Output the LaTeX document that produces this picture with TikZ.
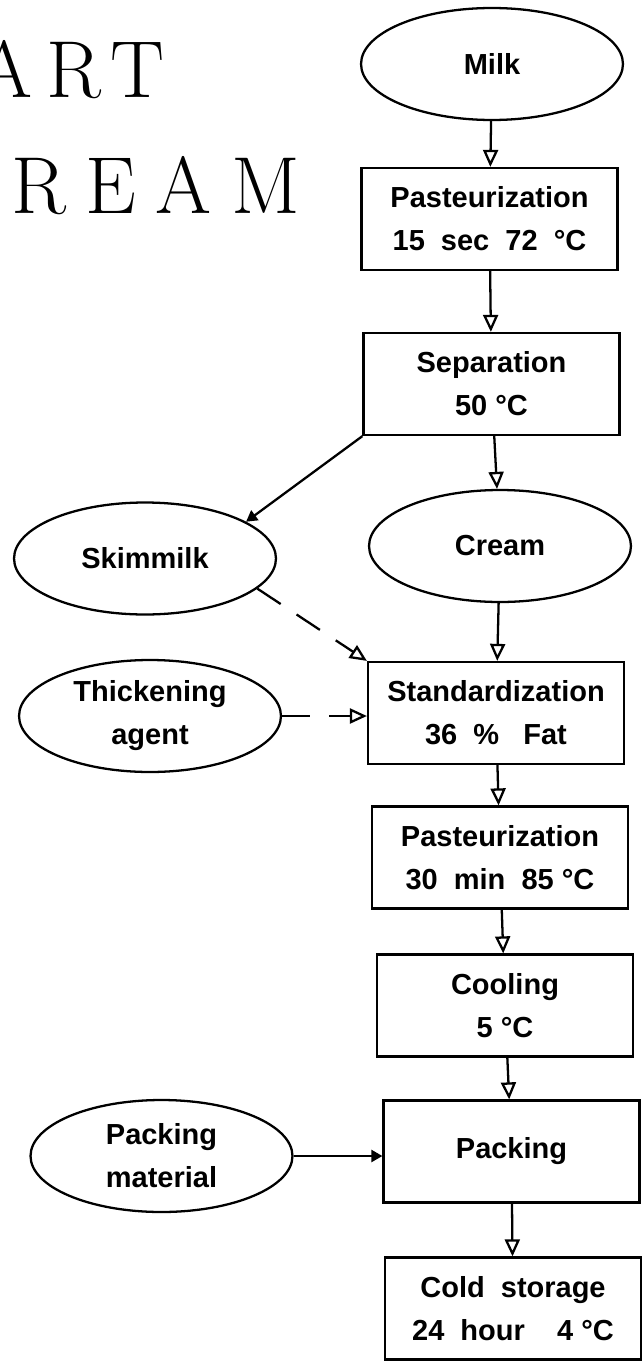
\documentclass[tikz,border=0pt]{standalone}
\usepackage{fontspec}
\newfontfamily\labelfont{Liberation Sans}
\usetikzlibrary{shapes.geometric,arrows.meta}

\tikzset{
  every node/.style={font=\labelfont\bfseries\fontsize{16.5}{24.5}\selectfont},
  stepbox/.style={draw, line width=1.3pt, minimum width=5.12cm, minimum height=2.04cm, align=center, inner sep=0pt},
  supply/.style={draw, ellipse, line width=1.3pt, minimum width=5.24cm, minimum height=2.24cm, align=center, inner sep=0pt},
  flow/.style={line width=1.3pt, -{Triangle[open,length=0.34cm,width=0.3cm]}},
  feed/.style={line width=1.3pt, -{Triangle[length=0.22cm,width=0.24cm]}},
  extra/.style={flow, dash pattern=on 0.56cm off 0.38cm},
  heading/.style={anchor=base west, inner sep=0pt, font=\rmfamily\mdseries\fontsize{46}{50}\selectfont}
}

\begin{document}
\begin{tikzpicture}[x=0.02cm, y=-0.02cm]
\useasboundingbox (0,0) rectangle (642,1362);
\clip (0,0) rectangle (642,1362);

\node[heading] (art) at (-24,97) {A\kern8pt R\kern5pt T};
\node[heading] (ream) at (11,213) {R\kern11pt E\kern11pt A\kern11pt M};

\node[supply] (milk) at (492,64) {Milk};
\node[stepbox] (past1) at (489.5,219) {Pasteurization\\15\ \ sec\ \ 72\ \ °C};
\node[stepbox] (sep) at (491.5,384) {Separation\\50 °C};
\node[supply] (cream) at (500,546) {Cream};
\node[supply] (skim) at (145,558.5) {Skimmilk};
\node[stepbox] (stand) at (496,713) {Standardization\\36\ \ \%\ \ \ Fat};
\node[supply] (thick) at (150,716) {Thickening\\agent};
\node[stepbox] (past2) at (500,857.5) {Pasteurization\\30\ \ min\ \ 85\ °C};
\node[stepbox] (cool) at (505,1005.5) {Cooling\\5 °C};
\node[stepbox] (pack) at (511.5,1151.5) {Packing};
\node[supply] (packmat) at (161.5,1156) {Packing\\material};
\node[stepbox] (cold) at (513,1308.5) {Cold\ \ storage\\24\ \ hour\ \ \ \ 4\ °C};

\draw[flow] (milk) -- (past1);
\draw[flow] (past1) -- (sep);
\draw[flow] (sep) -- (cream);
\draw[flow] (cream) -- (stand);
\draw[flow] (stand) -- (past2);
\draw[flow] (past2) -- (cool);
\draw[flow] (cool) -- (pack);
\draw[flow] (pack) -- (cold);

\draw[feed] (sep.south west) -- (skim.20);
\draw[extra] (skim.-15) -- (stand.north west);
\draw[extra] (thick.east) -- (thick.east -| stand.west);
\draw[feed] (packmat.east) -- (packmat.east -| pack.west);
\end{tikzpicture}
\end{document}
